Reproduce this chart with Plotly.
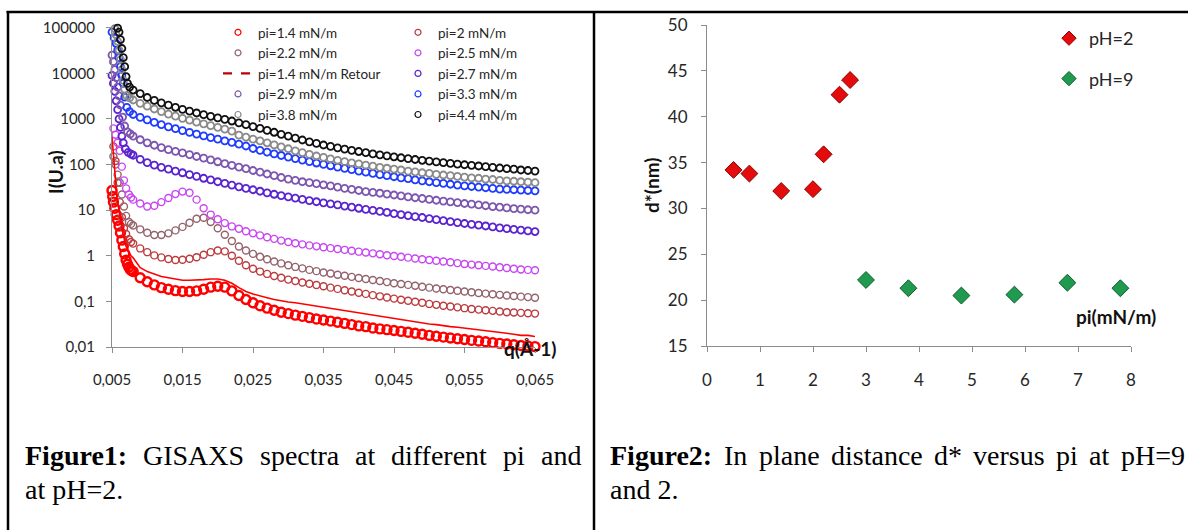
import plotly.graph_objects as go

W, H = 1188, 530


def px(x):
    return x / W


def py(y):
    return (H - y) / H


# ---------------- Figure 1 : GISAXS spectra ----------------
q_body = [0.008, 0.009, 0.010, 0.011, 0.012, 0.013, 0.014, 0.015, 0.016, 0.017,
          0.018, 0.019, 0.020, 0.021, 0.022, 0.023, 0.024, 0.025, 0.026, 0.027,
          0.028, 0.029, 0.030, 0.031, 0.032, 0.033, 0.034, 0.035, 0.036, 0.037,
          0.038, 0.039, 0.040, 0.041, 0.042, 0.043, 0.044, 0.045, 0.046, 0.047,
          0.048, 0.049, 0.050, 0.051, 0.052, 0.053, 0.054, 0.055, 0.056, 0.057,
          0.058, 0.059, 0.060, 0.061, 0.062, 0.063, 0.064, 0.065]

q_head_14 = [0.0050, 0.0051, 0.0052, 0.0054, 0.0056, 0.0058, 0.0060, 0.0062, 0.0064, 0.0066,
             0.0068, 0.0070, 0.0072, 0.0074, 0.0076, 0.0078]
I_head_14 = [27, 20, 15, 11, 8, 6, 4.5, 3.2, 2.2, 1.6, 1.1, 0.8, 0.65, 0.56, 0.5, 0.47]
I_body_14 = [0.45, 0.33, 0.27, 0.23, 0.2, 0.185, 0.172, 0.165, 0.165, 0.17,
             0.185, 0.205, 0.215, 0.205, 0.17, 0.135, 0.11, 0.093, 0.08, 0.071,
             0.064, 0.058, 0.054, 0.05, 0.047, 0.044, 0.041, 0.039, 0.037, 0.035,
             0.033, 0.031, 0.029, 0.028, 0.026, 0.025, 0.024, 0.023, 0.022, 0.021,
             0.02, 0.019, 0.018, 0.0172, 0.0165, 0.0158, 0.0152, 0.0146, 0.014, 0.0135,
             0.013, 0.0125, 0.012, 0.0116, 0.0112, 0.0108, 0.0105, 0.0102]

q_head_ret = [0.0050, 0.0052, 0.0054, 0.0056, 0.0058, 0.0062, 0.0066, 0.0070, 0.0074, 0.0077]
I_head_ret = [400, 150, 60, 30, 15, 6, 2.8, 1.6, 1.2, 1.0]
I_body_ret = [0.9, 0.55, 0.45, 0.39, 0.35, 0.33, 0.31, 0.29, 0.29, 0.29,
              0.3, 0.31, 0.31, 0.29, 0.25, 0.2, 0.165, 0.145, 0.13, 0.12,
              0.11, 0.102, 0.097, 0.093, 0.088, 0.083, 0.078, 0.074, 0.07, 0.066,
              0.062, 0.058, 0.055, 0.052, 0.049, 0.046, 0.044, 0.042, 0.04, 0.038,
              0.036, 0.034, 0.032, 0.031, 0.029, 0.028, 0.027, 0.026, 0.025, 0.024,
              0.023, 0.022, 0.021, 0.02, 0.019, 0.018, 0.018, 0.017]

q_head_mid = [0.0052, 0.0055, 0.0058, 0.0061, 0.0064, 0.0067, 0.0070, 0.0074, 0.0077]
I_head_20 = [250, 120, 40, 15, 7, 4, 3, 2.3, 2.0]
I_body_20 = [1.85, 1.45, 1.2, 1.02, 0.92, 0.85, 0.81, 0.82, 0.86, 0.93,
             1.05, 1.2, 1.3, 1.25, 1.0, 0.78, 0.62, 0.52, 0.45, 0.4,
             0.36, 0.33, 0.3, 0.28, 0.26, 0.243, 0.228, 0.214, 0.2, 0.188,
             0.176, 0.165, 0.155, 0.146, 0.137, 0.129, 0.122, 0.115, 0.109, 0.103,
             0.098, 0.093, 0.088, 0.084, 0.08, 0.077, 0.074, 0.071, 0.068, 0.066,
             0.064, 0.062, 0.06, 0.058, 0.057, 0.056, 0.055, 0.054]

I_head_22 = [150, 100, 60, 40, 22, 12, 7.5, 5.5, 5.0]
I_body_22 = [4.6, 3.8, 3.2, 2.85, 2.85, 3.1, 3.6, 4.3, 5.3, 6.5,
             6.8, 5.5, 4.0, 2.9, 2.1, 1.6, 1.3, 1.1, 0.95, 0.84,
             0.75, 0.68, 0.62, 0.57, 0.53, 0.49, 0.46, 0.43, 0.41, 0.385,
             0.365, 0.345, 0.325, 0.31, 0.295, 0.28, 0.265, 0.25, 0.24, 0.23,
             0.22, 0.21, 0.2, 0.192, 0.185, 0.178, 0.171, 0.165, 0.159, 0.153,
             0.148, 0.143, 0.139, 0.135, 0.131, 0.127, 0.124, 0.12]

I_head_25 = [620, 450, 300, 200, 90, 45, 30, 22, 19]
I_body_25 = [17, 14, 12, 12.5, 15, 18.5, 22.5, 25.5, 24, 17,
             11, 8, 6.3, 5.2, 4.4, 3.9, 3.45, 3.1, 2.8, 2.55,
             2.35, 2.15, 2.0, 1.88, 1.78, 1.69, 1.61, 1.54, 1.47, 1.41,
             1.35, 1.29, 1.23, 1.18, 1.13, 1.08, 1.03, 0.99, 0.95, 0.91,
             0.87, 0.84, 0.81, 0.78, 0.75, 0.72, 0.69, 0.66, 0.64, 0.62,
             0.6, 0.58, 0.56, 0.54, 0.52, 0.5, 0.49, 0.48]

q_head_27 = [0.0050, 0.0052, 0.0054, 0.0056, 0.0058, 0.0060, 0.0062, 0.0064, 0.0066, 0.0069,
             0.0073, 0.0077]
I_head_27 = [9000, 6000, 4000, 2500, 1600, 1000, 650, 420, 300, 220, 185, 170]
I_body_27 = [160, 130, 110, 97, 87, 79, 72, 66, 60, 55,
             50, 46, 42, 38.5, 35.5, 32.5, 30, 28, 26, 24,
             22.3, 20.8, 19.5, 18.3, 17.2, 16.2, 15.3, 14.5, 13.7, 13,
             12.3, 11.6, 11, 10.4, 9.9, 9.4, 8.9, 8.4, 8, 7.6,
             7.2, 6.9, 6.5, 6.2, 5.9, 5.6, 5.35, 5.1, 4.9, 4.7,
             4.5, 4.3, 4.1, 3.95, 3.8, 3.65, 3.5, 3.4]

q_head_29 = [0.0050, 0.0052, 0.0054, 0.0056, 0.0058, 0.0060, 0.0062, 0.0065, 0.0068, 0.0072,
             0.0076]
I_head_29 = [25000, 18000, 12000, 8000, 5000, 3200, 2000, 1100, 700, 520, 470]
I_body_29 = [420, 350, 300, 265, 235, 212, 195, 180, 165, 150,
             138, 126, 115, 105, 96, 88, 81, 74, 68, 62,
             57, 52, 48, 45, 42, 40, 38, 36, 34, 32,
             30, 28.5, 27, 25.5, 24.5, 23.5, 22.5, 21.5, 20.5, 19.5,
             18.7, 18, 17.2, 16.5, 15.8, 15.2, 14.6, 14, 13.5, 13,
             12.5, 12, 11.6, 11.2, 10.8, 10.5, 10.2, 10]

q_head_33 = [0.0050, 0.0053, 0.0056, 0.0058, 0.0060, 0.0062, 0.0064, 0.0066, 0.0068, 0.0071,
             0.0075]
I_head_33 = [80000, 60000, 45000, 32000, 22000, 14000, 9000, 6000, 3000, 1800, 1450]
I_body_33 = [1250, 1080, 950, 840, 750, 670, 610, 555, 505, 465,
             425, 390, 360, 330, 305, 280, 255, 225, 205, 188,
             172, 158, 146, 135, 125, 116, 108, 101, 94, 88,
             82, 77, 72, 68, 64, 60, 57, 54, 51, 49,
             46, 44, 42, 40, 38.5, 37, 35.5, 34, 33, 32,
             31, 30, 29, 28.5, 28, 27.5, 27, 26.5]

q_head_38 = [0.0054, 0.0056, 0.0058, 0.0060, 0.0062, 0.0064, 0.0066, 0.0068, 0.0071, 0.0075]
I_head_38 = [95000, 70000, 50000, 32000, 20000, 12000, 7000, 4500, 3200, 2900]
I_body_38 = [2600, 2200, 1900, 1650, 1450, 1280, 1150, 1030, 940, 850,
             780, 710, 650, 600, 540, 440, 400, 360, 330, 300,
             270, 245, 222, 200, 182, 167, 154, 143, 133, 124,
             116, 109, 103, 97, 92, 87, 83, 79, 76, 72,
             69, 66, 64, 61, 59, 57, 55, 53, 51, 50,
             48, 47, 45, 44, 43, 42, 41, 40]

q_head_44 = [0.0058, 0.0060, 0.0062, 0.0064, 0.0066, 0.0068, 0.0070, 0.0072, 0.0075]
I_head_44 = [98000, 80000, 55000, 35000, 22000, 14000, 8500, 6000, 5000]
I_body_44 = [4300, 3600, 2950, 2550, 2250, 2000, 1800, 1620, 1480, 1350,
             1240, 1140, 1050, 980, 900, 820, 750, 680, 620, 560,
             510, 460, 420, 380, 345, 315, 290, 268, 250, 233,
             218, 205, 193, 182, 172, 163, 155, 148, 141, 135,
             129, 124, 119, 114, 110, 106, 102, 99, 96, 93,
             90, 87, 84, 81, 79, 76, 74, 72]

y_tickvals_1 = [0.01, 0.1, 1, 10, 100, 1000, 10000, 100000]
y_ticktext_1 = ["0,01", "0,1", "1", "10", "100", "1000", "10000", "100000"]
x_tickvals_1 = [0.005, 0.015, 0.025, 0.035, 0.045, 0.055, 0.065]
x_ticktext_1 = ["0,005", "0,015", "0,025", "0,035", "0,045", "0,055", "0,065"]

# ---------------- Figure 2 : d* versus pi ----------------
pi_pH2 = [0.5, 0.8, 1.4, 2.0, 2.2, 2.5, 2.7]
d_pH2 = [34.2, 33.8, 31.9, 32.1, 35.9, 42.4, 44.0]
pi_pH9 = [3.0, 3.8, 4.8, 5.8, 6.8, 7.8]
d_pH9 = [22.2, 21.3, 20.5, 20.6, 21.9, 21.3]

CHART_FONT = "Lato"
SERIF = "Liberation Serif"
AXIS_GREY = "#8c8c8c"
TEXT_COL = "#262626"

fig = go.Figure()

scatter_series = [
    ("pi=1.4 mN/m", q_head_14, I_head_14, I_body_14, "#ff0000", "legend", 9, 2.4),
    ("pi=2 mN/m", q_head_mid, I_head_20, I_body_20, "#bd3b3e", "legend2", 7, 1.4),
    ("pi=2.2 mN/m", q_head_mid, I_head_22, I_body_22, "#94626c", "legend", 7, 1.4),
    ("pi=2.5 mN/m", q_head_mid, I_head_25, I_body_25, "#c846f2", "legend2", 7, 1.4),
]
scatter_series_top = [
    ("pi=2.7 mN/m", q_head_27, I_head_27, I_body_27, "#5a24cf", "legend2", 7, 1.8),
    ("pi=2.9 mN/m", q_head_29, I_head_29, I_body_29, "#7d56b0", "legend", 7, 1.8),
    ("pi=3.3 mN/m", q_head_33, I_head_33, I_body_33, "#1f3cff", "legend2", 7, 1.8),
    ("pi=3.8 mN/m", q_head_38, I_head_38, I_body_38, "#8a8a8a", "legend", 7, 1.8),
    ("pi=4.4 mN/m", q_head_44, I_head_44, I_body_44, "#111111", "legend2", 7, 1.8),
]


def add_circles(name, qh, ih, ib, color, leg, size, lw):
    fig.add_trace(go.Scatter(
        x=qh + q_body, y=ih + ib, mode="markers", name=name, showlegend=False,
        marker=dict(symbol="circle-open", size=size, color=color,
                    line=dict(width=lw, color=color)),
        cliponaxis=False, xaxis="x", yaxis="y"))
    # small legend-only symbol, as in the original legend
    fig.add_trace(go.Scatter(
        x=[None], y=[None], mode="markers", name=name,
        marker=dict(symbol="circle-open", size=6, color=color,
                    line=dict(width=1.2, color=color)),
        xaxis="x", yaxis="y", legend=leg))


for s in scatter_series:
    add_circles(*s)

# "Retour" curve: plotted as a thin solid line, legend shows a dashed line
fig.add_trace(go.Scatter(
    x=q_head_ret + q_body, y=I_head_ret + I_body_ret, mode="lines",
    line=dict(color="#ff0000", width=1.6), showlegend=False,
    cliponaxis=False, xaxis="x", yaxis="y"))
fig.add_trace(go.Scatter(
    x=[None], y=[None], mode="lines", name="pi=1.4 mN/m Retour",
    line=dict(color="#c00000", width=2.2, dash="dash"),
    xaxis="x", yaxis="y", legend="legend"))

for s in scatter_series_top:
    add_circles(*s)

fig.add_trace(go.Scatter(
    x=pi_pH2, y=d_pH2, mode="markers", name="pH=2", showlegend=False,
    marker=dict(symbol="diamond", size=13, color="#e30b0b",
                line=dict(width=1, color="#8e0000")),
    cliponaxis=False, xaxis="x2", yaxis="y2"))
fig.add_trace(go.Scatter(
    x=pi_pH9, y=d_pH9, mode="markers", name="pH=9", showlegend=False,
    marker=dict(symbol="diamond", size=13, color="#1f9a4f",
                line=dict(width=1, color="#0d5e2c")),
    cliponaxis=False, xaxis="x2", yaxis="y2"))
fig.add_trace(go.Scatter(
    x=[None], y=[None], mode="markers", name="pH=2",
    marker=dict(symbol="diamond", size=11, color="#e30b0b",
                line=dict(width=1, color="#8e0000")),
    xaxis="x2", yaxis="y2", legend="legend3", legendgroup="a"))
fig.add_trace(go.Scatter(
    x=[None], y=[None], mode="markers", name="pH=9",
    marker=dict(symbol="diamond", size=11, color="#1f9a4f",
                line=dict(width=1, color="#0d5e2c")),
    xaxis="x2", yaxis="y2", legend="legend3", legendgroup="b"))

axis_common = dict(showline=True, linecolor=AXIS_GREY, linewidth=1, ticks="outside",
                   ticklen=5, tickcolor=AXIS_GREY, showgrid=False, zeroline=False,
                   mirror=False, automargin=False)

fig.update_layout(
    width=W, height=H, margin=dict(l=0, r=0, t=0, b=0, pad=0, autoexpand=False),
    paper_bgcolor="white", plot_bgcolor="white",
    font=dict(family=CHART_FONT, color=TEXT_COL),
    xaxis=dict(domain=[px(112), px(535)], range=[0.005, 0.065], anchor="y",
               tickvals=x_tickvals_1, ticktext=x_ticktext_1,
               tickfont=dict(size=15, color=TEXT_COL), ticklabelstandoff=14, **axis_common),
    yaxis=dict(domain=[py(347), py(27.7)], type="log", range=[-2, 5], anchor="x",
               tickvals=y_tickvals_1, ticktext=y_ticktext_1,
               tickfont=dict(size=15, color=TEXT_COL), ticklabelstandoff=8, **axis_common),
    xaxis2=dict(domain=[px(707), px(1131)], range=[0, 8], anchor="y2",
                tickvals=[0, 1, 2, 3, 4, 5, 6, 7, 8],
                tickfont=dict(size=17, color=TEXT_COL), ticklabelstandoff=14, **axis_common),
    yaxis2=dict(domain=[py(346), py(25)], range=[15, 50], anchor="x2",
                tickvals=[15, 20, 25, 30, 35, 40, 45, 50],
                tickfont=dict(size=17, color=TEXT_COL), ticklabelstandoff=10, **axis_common),
    legend=dict(x=px(218), y=py(17), xanchor="left", yanchor="top",
                bgcolor="rgba(0,0,0,0)", font=dict(size=13.5, color=TEXT_COL),
                itemwidth=30, tracegroupgap=0),
    legend2=dict(x=px(398), y=py(17), xanchor="left", yanchor="top",
                 bgcolor="rgba(0,0,0,0)", font=dict(size=13.5, color=TEXT_COL),
                 itemwidth=30, tracegroupgap=0),
    legend3=dict(x=px(1049), y=py(20), xanchor="left", yanchor="top",
                 bgcolor="rgba(0,0,0,0)", font=dict(size=18, color=TEXT_COL),
                 itemwidth=30, tracegroupgap=14),
)

annotations = []


def text_at(text, x, y, size, family=CHART_FONT, xanchor="left", angle=0, color=TEXT_COL):
    annotations.append(dict(
        text=text, x=px(x), y=py(y), xref="paper", yref="paper", showarrow=False,
        xanchor=xanchor, yanchor="middle", textangle=angle,
        font=dict(family=family, size=size, color=color)))


# axis titles
text_at("<b>I(U.a)</b>", 55, 172, 19, xanchor="center", angle=-90, color="#111111")
text_at("<b>q(Å-1)</b>", 530, 348, 19, xanchor="center", color="#111111")
text_at("<b>d*(nm)</b>", 651, 185, 19, xanchor="center", angle=-90, color="#111111")
text_at("<b>pi(mN/m)</b>", 1116, 316, 19, xanchor="center", color="#111111")

# captions (justified lines rebuilt word by word)
cap1_words = ["<b>Figure1:</b>", "GISAXS", "spectra", "at", "different", "pi", "and"]
cap1_left = [23, 141, 258, 353, 389, 501, 538.5]
for w, xl in zip(cap1_words, cap1_left):
    text_at(w, xl, 455, 28, family=SERIF, color="black")
text_at("at pH=2.", 23, 489, 28, family=SERIF, color="black")

cap2_words = ["<b>Figure2:</b>", "In", "plane", "distance", "d*", "versus", "pi", "at", "pH=9"]
cap2_left = [608, 722, 756.7, 828.7, 931.9, 971.3, 1054.2, 1087.4, 1119]
for w, xl in zip(cap2_words, cap2_left):
    text_at(w, xl, 455, 28, family=SERIF, color="black")
text_at("and 2.", 608, 489, 28, family=SERIF, color="black")

fig.update_layout(annotations=annotations)

# table borders
border = dict(type="line", xref="paper", yref="paper", line=dict(color="black", width=2.5))
fig.add_shape(x0=px(6.5), x1=px(1190), y0=py(12), y1=py(12), **border)
fig.add_shape(x0=px(8), x1=px(8), y0=py(11), y1=py(535), **border)
fig.add_shape(x0=px(594), x1=px(594), y0=py(11), y1=py(535), **border)

fig.write_html("out.html", config={"displayModeBar": False},
               post_script="document.body.style.margin='0';document.body.style.overflow='hidden';")
